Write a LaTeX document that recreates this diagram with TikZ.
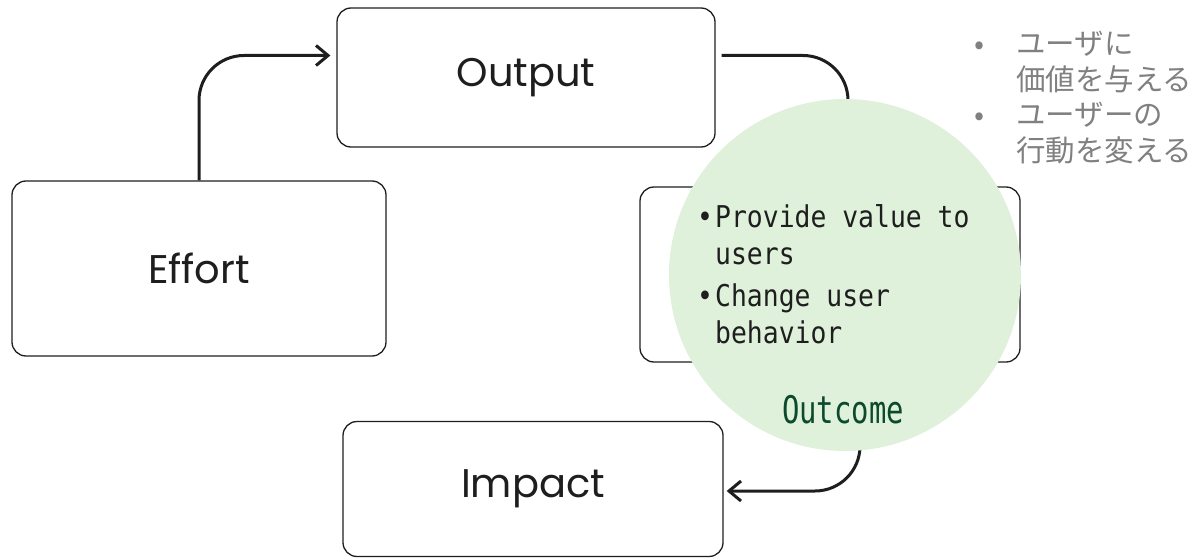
\documentclass[tikz,border=0pt]{standalone}
\usepackage{fontspec}
\usetikzlibrary{arrows.meta}
\setmainfont{Poppins}
\newfontfamily\monofont[FakeStretch=0.88]{DejaVu Sans Mono}
\newfontfamily\tagfont[FakeStretch=0.76]{DejaVu Sans Mono}
\newfontfamily\jpfont{Noto Sans CJK JP}
\definecolor{ink}{HTML}{1E1E1E}
\definecolor{mint}{HTML}{DFF0DB}
\definecolor{leaf}{HTML}{0B4A2C}
\definecolor{memo}{HTML}{808080}
\begin{document}
\begin{tikzpicture}[x = 1pt, y = -1pt,
  box/.style = {draw = ink, line width = 1.3pt, rounded corners = 14pt, inner sep = 0pt, text = ink, font = \fontsize{40}{46}\selectfont},
  link/.style = {draw = ink, line width = 3pt, rounded corners = 45pt, -{Straight Barb[length = 12pt, width = 20pt, line width = 3pt]}}]
\useasboundingbox (0, 0) rectangle (1191, 559);
\node [box, minimum width = 378pt, minimum height = 139pt] (output) at (526, 77.5) {Output};
\node [box, minimum width = 374pt, minimum height = 175pt] (effort) at (199, 268.5) {Effort};
\node [box, minimum width = 380pt, minimum height = 175pt] (outcome) at (830, 274.5) {};
\node [box, minimum width = 380pt, minimum height = 135pt] (impact) at (533, 489) {Impact};
\draw [link, shorten > = 6pt] (effort.north) |- ([yshift = 22pt]output.west);
\draw [link, -, shorten < = 6pt] ([yshift = 22pt]output.east) -| ([xshift = 18pt]outcome.north);
\draw [link, shorten > = 3pt] ([xshift = 30pt]outcome.south) |- ([yshift = -2pt]impact.east);
\node [circle, fill = mint, minimum size = 352pt, inner sep = 0pt] (circ) at (845, 275) {};
\node [anchor = north west, align = left, inner sep = 0pt, text = ink, font = \monofont\fontsize{30}{37}\selectfont] (goals) at (697, 204)
  {\makebox[18pt][l]{\textbullet}Provide value to\\\hspace*{18pt}users\\[5pt]\makebox[18pt][l]{\textbullet}Change user\\\hspace*{18pt}behavior};
\node [text = leaf, inner sep = 0pt, font = \tagfont\fontsize{38}{44}\selectfont] (label) at (843, 410) {Outcome};
\node [anchor = north west, align = left, inner sep = 0pt, text = memo, font = \jpfont\fontsize{29.5}{35.5}\selectfont] (memo) at (974, 31)
  {\makebox[42pt][l]{•}ユーザに\\\hspace*{42pt}価値を与える\\\makebox[42pt][l]{•}ユーザーの\\\hspace*{42pt}行動を変える};
\end{tikzpicture}
\end{document}
